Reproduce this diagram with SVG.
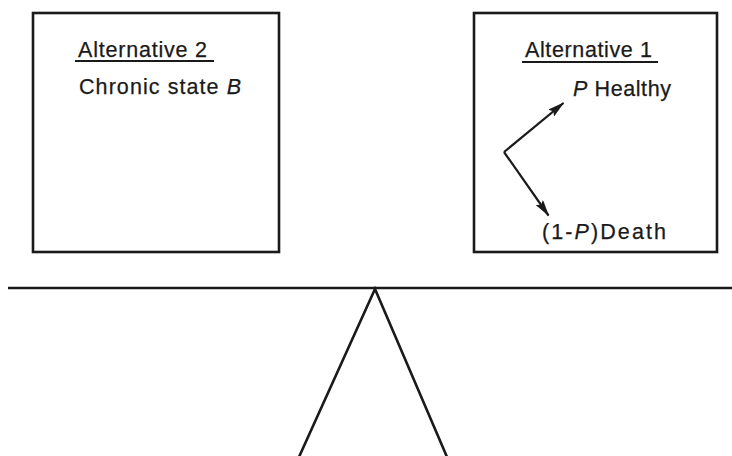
<svg xmlns="http://www.w3.org/2000/svg" width="732" height="456" viewBox="0 0 732 456">
<style>
.box{fill:none;stroke:#1a1a1a;stroke-width:2.6}
.t{font-family:"Liberation Sans",Arial,sans-serif;font-size:21.5px;fill:#1a1a1a;stroke:#1a1a1a;stroke-width:0.25}
.ul{stroke:#1a1a1a;stroke-width:2}
.ln{stroke:#1a1a1a;stroke-width:2.6;fill:none}
.arr{stroke:#1a1a1a;stroke-width:2.2;fill:none;marker-end:url(#ah)}
</style>
<defs>
<marker id="ah" viewBox="0 0 17 9" refX="16" refY="4.5" markerWidth="17" markerHeight="9" markerUnits="userSpaceOnUse" orient="auto">
<path d="M0,0 L17,4.5 L0,9 L3,4.5 Z" fill="#1a1a1a"/>
</marker>
</defs>
<rect width="732" height="456" fill="#fff"/>
<g id="alt2">
<rect class="box" x="33" y="13" width="246" height="239"/>
<text class="t" x="78" y="57" textLength="129" lengthAdjust="spacing">Alternative 2</text>
<line class="ul" x1="75" y1="61" x2="214" y2="61"/>
<text class="t" x="79" y="94" textLength="162" lengthAdjust="spacing">Chronic state <tspan font-style="italic">B</tspan></text>
</g>
<g id="alt1">
<rect class="box" x="474" y="13" width="243" height="239"/>
<text class="t" x="525" y="57" textLength="127" lengthAdjust="spacing">Alternative 1</text>
<line class="ul" x1="522" y1="62" x2="658" y2="62"/>
<text class="t" x="573" y="96" textLength="98" lengthAdjust="spacing"><tspan font-style="italic">P</tspan> Healthy</text>
<text class="t" x="542" y="239" textLength="124" lengthAdjust="spacing">(1-<tspan font-style="italic">P</tspan>)Death</text>
</g>
<g id="connectors">
<line class="arr" x1="504" y1="152" x2="563.5" y2="103"/>
<line class="arr" x1="504" y1="152" x2="548.5" y2="215.5"/>
</g>
<g id="balance">
<line class="ln" x1="8" y1="288" x2="732" y2="288"/>
<polyline class="ln" points="299,457 375,289 447,457" stroke-linejoin="miter"/>
</g>
</svg>
